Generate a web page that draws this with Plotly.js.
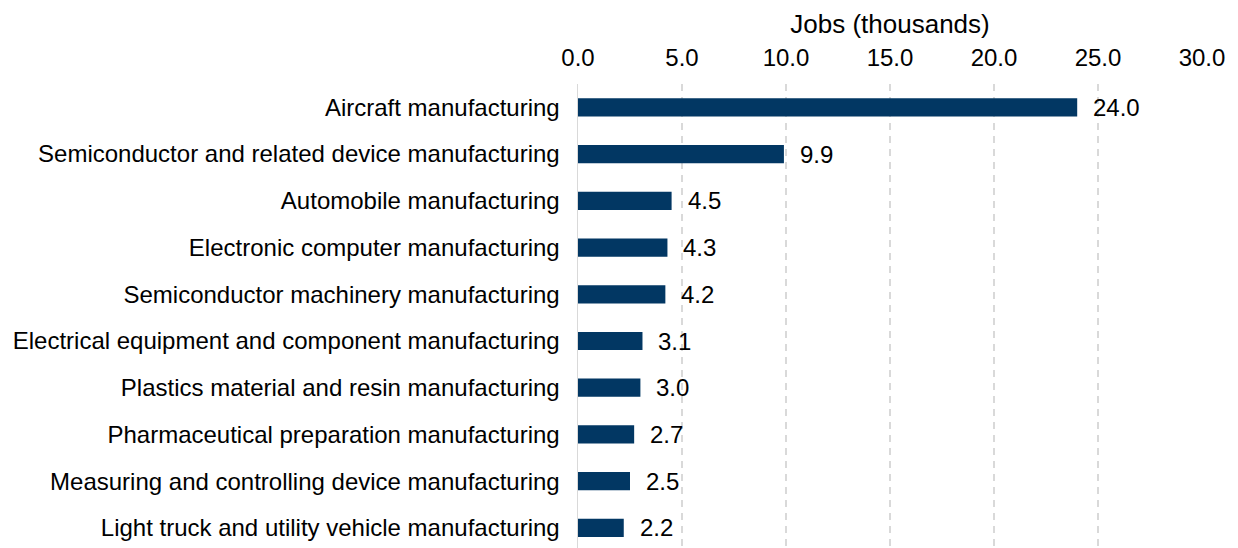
<!DOCTYPE html>
<html>
<head>
<meta charset="utf-8">
<script src="https://cdn.plot.ly/plotly-3.0.1.min.js"></script>
<style>
html,body{margin:0;padding:0;background:#fff;}
#chart{width:1238px;height:548px;}
</style>
</head>
<body>
<div id="chart"></div>
<script>
const categories = [
  "Aircraft manufacturing",
  "Semiconductor and related device manufacturing",
  "Automobile manufacturing",
  "Electronic computer manufacturing",
  "Semiconductor machinery manufacturing",
  "Electrical equipment and component manufacturing",
  "Plastics material and resin manufacturing",
  "Pharmaceutical preparation manufacturing",
  "Measuring and controlling device manufacturing",
  "Light truck and utility vehicle manufacturing"
];
const jobs = [24.0, 9.9, 4.5, 4.3, 4.2, 3.1, 3.0, 2.7, 2.5, 2.2];
const xTicks = [0, 5, 10, 15, 20, 25, 30];
const xTickLabels = ["0.0", "5.0", "10.0", "15.0", "20.0", "25.0", "30.0"];

const FONT = "'Liberation Sans', Arial, sans-serif";

const trace = {
  type: 'bar',
  orientation: 'h',
  x: jobs,
  y: categories,
  width: 0.39,
  marker: {color: '#023763', line: {width: 0}},
  hoverinfo: 'x+y'
};

const annotations = jobs.map((v, i) => ({
  x: v, y: categories[i], xref: 'x', yref: 'y',
  text: v.toFixed(1), showarrow: false,
  xanchor: 'left', yanchor: 'middle', xshift: 14,
  font: {family: FONT, size: 24, color: '#000'}
}));

const layout = {
  width: 1238, height: 548,
  margin: {l: 578, r: 36, t: 84, b: 0, pad: 0},
  paper_bgcolor: '#fff', plot_bgcolor: '#fff',
  showlegend: false,
  font: {family: FONT, size: 24, color: '#000'},
  xaxis: {
    side: 'top',
    range: [0, 30],
    tickvals: xTicks,
    ticktext: xTickLabels,
    ticks: 'outside', ticklen: 7, tickcolor: 'rgba(0,0,0,0)',
    showgrid: true, gridcolor: '#d9d9d9', griddash: '7px,6px', gridwidth: 1.3,
    zeroline: false,
    showline: false,
    tickfont: {family: FONT, size: 24, color: '#000'},
    title: {text: 'Jobs (thousands)', font: {family: FONT, size: 26, color: '#000'}, standoff: 3},
    fixedrange: true
  },
  yaxis: {
    type: 'category',
    range: [9.43, -0.5],
    ticks: 'outside', ticklen: 12, tickcolor: 'rgba(0,0,0,0)',
    showgrid: false,
    showline: true, linecolor: '#d9d9d9', linewidth: 1.5,
    tickfont: {family: FONT, size: 24, color: '#000'},
    automargin: false,
    fixedrange: true
  },
  annotations: annotations
};

Plotly.newPlot('chart', [trace], layout, {displayModeBar: false, staticPlot: true});
</script>
</body>
</html>
